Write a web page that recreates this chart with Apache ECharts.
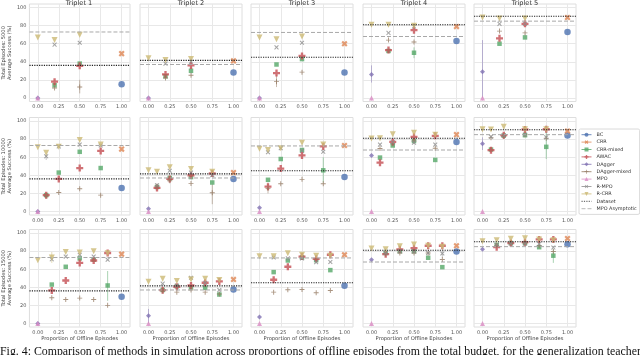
<!DOCTYPE html>
<html>
<head>
<meta charset="utf-8">
<script src="https://cdn.jsdelivr.net/npm/echarts@6/dist/echarts.min.js"></script>
<style>
  html, body { margin: 0; padding: 0; background: #fff; }
  #chart { width: 640px; height: 355px; }
</style>
</head>
<body>
<div id="chart"></div>
<script>
const _ = null;

// ====== Data ======
const triplets = ['Triplet 1', 'Triplet 2', 'Triplet 3', 'Triplet 4', 'Triplet 5'];
const budgets = ['5000', '10000', '15000'];
// x positions of the runs in each row (proportion of offline episodes)
const xsRow = [
  [0, 0.2, 0.5, 1],
  [0, 0.1, 0.25, 0.5, 0.75, 1],
  [0, 1 / 6, 1 / 3, 0.5, 2 / 3, 5 / 6, 1]
];
const xTicks = [0, 0.25, 0.5, 0.75, 1];
const yTicks = [0, 20, 40, 60, 80, 100];

const datasetLevel = [36, 41.5, 45, 81, 90.5];
const mpoAsymptotic = [73, 37, 72.5, 68, 85];

// methods only run at x = 1 or x = 0 : [row][col]
const bcFull = [[15, 28, 28, 63, 73], [26, 36, 38, 77, 84], [29.5, 37.6, 41.7, 79.6, 87.7]];
const crrFull = [[49, 41, 60, 79, 89], [69, 43, 73, 85, 89], [76.7, 48.7, 76, 86, 94]];
const daggerZero = [[0, 0, 0, 26, 29], [0, 3, 4, 62, 75], [0, 8.5, 7, 70.4, 82]];
const mpoZero = [[0, 0, 0, 0, 0], [0, 0, 0, 0, 0], [0, 0, 0, 0, 0]];

// methods over xsRow : [row][col][i]
const rCRR = [
  [[67, 64, 70, _], [44, 42, 43, _], [67, 65, 68, _], [81, 81, 80, _], [89, 88, 88, _]],
  [[71, 65, 71.5, 79, 74, _], [45.5, 44, 49, 47, 44, _], [69.5, 68, 70, 76, 74, _], [80.7, 81, 85.5, 87, 85, _], [91, 90.7, 93.7, 91, 91, _]],
  [[70, 73, 79, 78.5, 80, 77.8, _], [46, 49.4, 47, 48.7, 49.4, 48, _], [74.4, 74.4, 77.8, 76, 75, 75, _], [83, 82, 85.5, 87.4, 86, 85, _], [91, 92, 93.7, 94.4, 93, 92, _]]
];
const rMPO = [
  [[_, 59, 61, _], [_, 38, 40, _], [_, 56, 61, _], [_, 72, 79, _], [_, 82, 82, _]],
  [[_, 61, 72, 74, 73, _], [_, 29, 45, 43, 40, _], [_, 65.5, 70, 67, 66, _], [_, 74, 76.7, 76, 74, _], [_, 82.6, 84, 85, 82, _]],
  [[_, 71, 74, 76, 74, 70.5, _], [_, 44, 42, 50.5, 45, 37, _], [_, 73, 72, 72, 67.8, 68, _], [_, 78, 80, 79.6, 78, 77.4, _], [_, 87, 88.5, 88.5, 88, 84, _]]
];
const crrMixed = [
  [[_, 14, 38, _], [_, 24, 30, _], [_, 37, 43, _], [_, 52, 50, _], [_, 60, 67, _]],
  [[_, 18, 43, 66, 48, _], [_, 27, 37, 38, 32, _], [_, 35, 58, 68, 45.5, _], [_, 59.6, 73, 78, 57, _], [_, 68.5, 84, 84.4, 71.5, _]],
  [[_, 43, 62.7, 72, 70.5, 42, _], [_, 37, 41, 40, 39.5, 32, _], [_, 56.8, 69.7, 73, 70, 59, _], [_, 78, 80, 80, 72.7, 62.3, _], [_, 87, 89, 89, 84.4, 75, _]]
];
const awac = [
  [[_, 18, 35.5, _], [_, 26, 36, _], [_, 27.5, 46.5, _], [_, 53, 75, _], [_, 66, 82, _]],
  [[_, 18, 36, 48, 67, _], [_, 26, 36, 40, 42, _], [_, 27.4, 47.4, 62, 72, _], [_, 54, 77, 82.6, 83.7, _], [_, 67.8, 84.4, 90.7, 91, _]],
  [[_, 36.5, 47.5, 67, 69.7, 78, _], [_, 36.8, 40.6, 42, 45, 46.5, _], [_, 48.3, 62.7, 74, 71.5, 76, _], [_, 76.7, 82, 83.3, 86, 86, _], [_, 84.4, 89, 90, 93, 93, _]]
];
const daggerMixed = [
  [[_, 11, 12, _], [_, 22, 25, _], [_, 18, 28.5, _], [_, 64, 62, _], [_, 74, 72, _]],
  [[_, 17, 21, 25, 18, _], [_, 28, 34, 31, 20.7, _], [_, 25.5, 30.7, 35.5, 30.7, _], [_, 69.6, 75, 78, 70, _], [_, 81.5, 83, 85, 81, _]],
  [[_, 28.4, 26.5, 28, 26.5, 20, _], [_, 36, 34.6, 37, 34.6, 32.5, _], [_, 34.6, 37.3, 37.6, 34, 36.5, _], [_, 77, 78, 78, 78, 70.8, _], [_, 86, 89, 89, 86, 79.6, _]]
];

// visible error bars: [row, col, method, x, low, high]
const errorBars = [
  [0, 0, 'DAgger-mixed', 0.5, 5, 20],
  [0, 2, 'DAgger-mixed', 0.2, 12, 25],
  [0, 3, 'DAgger', 0, 17, 36],
  [0, 3, 'CRR-mixed', 0.5, 44, 56],
  [0, 4, 'DAgger', 0, 0, 64],
  [1, 0, 'R-MPO', 0.1, 57, 64],
  [1, 1, 'DAgger-mixed', 0.75, 8, 30],
  [1, 2, 'CRR-mixed', 0.75, 32, 60],
  [1, 2, 'DAgger-mixed', 0.1, 20, 32],
  [1, 4, 'CRR-mixed', 0.75, 58, 88],
  [1, 4, 'DAgger', 0, 68, 82],
  [2, 0, 'CRR-mixed', 5 / 6, 25, 58],
  [2, 0, 'R-CRR', 1 / 6, 67, 79],
  [2, 1, 'DAgger', 0, 0, 16],
  [2, 3, 'R-MPO', 5 / 6, 73, 82],
  [2, 4, 'CRR-mixed', 5 / 6, 67, 82]
];

// ====== Styles ======
const plusPath = 'path://M-1,-3H1V-1H3V1H1V3H-1V1H-3V-1H-1Z';
const thinPlus = 'path://M-0.55,-3H0.55V-0.55H3V0.55H0.55V3H-0.55V0.55H-3V-0.55H-0.55Z';

const methods = [
  { name: 'BC', color: '#4C72B0', symbol: 'circle', size: 6.5, pts: (r, c) => [[1, bcFull[r][c]]] },
  { name: 'CRR', color: '#DD8452', symbol: plusPath, rotate: 45, size: 6.5, pts: (r, c) => [[1, crrFull[r][c]]] },
  { name: 'CRR-mixed', color: '#55A868', symbol: 'rect', size: 4.5, vals: crrMixed },
  { name: 'AWAC', color: '#C44E52', symbol: plusPath, size: 7, vals: awac },
  { name: 'DAgger', color: '#8172B3', symbol: 'diamond', size: 5, pts: (r, c) => [[0, daggerZero[r][c]]] },
  { name: 'DAgger-mixed', color: '#937860', symbol: thinPlus, size: 5, vals: daggerMixed },
  { name: 'MPO', color: '#DA8BC3', symbol: 'triangle', size: 5, pts: (r, c) => [[0, mpoZero[r][c]]] },
  { name: 'R-MPO', color: '#8C8C8C', symbol: thinPlus, rotate: 45, size: 5.5, vals: rMPO },
  { name: 'R-CRR', color: '#CCB974', symbol: 'triangle', rotate: 180, size: 6, vals: rCRR }
];
const colorOf = {};
methods.forEach(m => { colorOf[m.name] = m.color; });

const colLeft = [28, 140, 251, 363, 474];
const colWidth = 102;
const rowTop = [4, 117.5, 229.5];
const rowHeight = 97.5;
const font = 'DejaVu Sans';

// ====== Build option ======
const grids = [], xAxes = [], yAxes = [], series = [];

for (let r = 0; r < 3; r++) {
  for (let c = 0; c < 5; c++) {
    const g = r * 5 + c;
    grids.push({
      left: colLeft[c], top: rowTop[r], width: colWidth, height: rowHeight,
      show: true, borderColor: '#dedede', borderWidth: 1, backgroundColor: 'transparent'
    });
    xAxes.push({
      gridIndex: g, type: 'value', min: -0.1, max: 1.1,
      axisLine: { show: false },
      axisTick: { show: false, customValues: xTicks },
      axisLabel: { customValues: xTicks, formatter: v => v.toFixed(2), fontSize: 5, color: '#555', margin: 3, fontFamily: font },
      splitLine: { lineStyle: { color: '#e8e8e8', width: 1 } },
      name: r === 2 ? 'Proportion of Offline Episodes' : '',
      nameLocation: 'middle', nameGap: 9.5,
      nameTextStyle: { fontSize: 5.2, color: '#444', fontFamily: font }
    });
    yAxes.push({
      gridIndex: g, type: 'value', min: -4, max: 104,
      axisLine: { show: false },
      axisTick: { show: false, customValues: yTicks },
      axisLabel: { show: c === 0, customValues: yTicks, fontSize: 5, color: '#555', margin: 3, fontFamily: font },
      splitLine: { lineStyle: { color: '#e8e8e8', width: 1 } },
      name: c === 0 ? 'Total Episodes: ' + budgets[r] + '\nAverage Success (%)' : '',
      nameLocation: 'middle', nameGap: 14, nameRotate: 90,
      nameTextStyle: { fontSize: 5.2, lineHeight: 6, color: '#444', fontFamily: font }
    });

    // error bars
    const bars = errorBars.filter(e => e[0] === r && e[1] === c);
    if (bars.length) {
      series.push({
        type: 'custom', xAxisIndex: g, yAxisIndex: g, silent: true, z: 1,
        data: bars.map(e => [e[3], e[4], e[5], e[2]]),
        encode: { x: 0, y: [1, 2] },
        renderItem: (params, api) => {
          const top = api.coord([api.value(0), api.value(2)]);
          const bot = api.coord([api.value(0), api.value(1)]);
          const m = bars[params.dataIndex][2];
          return {
            type: 'line',
            shape: { x1: top[0], y1: top[1], x2: bot[0], y2: bot[1] },
            style: { stroke: colorOf[m], lineWidth: 1, opacity: 0.5 }
          };
        }
      });
    }

    // markers
    methods.forEach((m, k) => {
      let data;
      if (m.vals) {
        data = xsRow[r].map((x, i) => [x, m.vals[r][c][i]]).filter(p => p[1] != null);
      } else {
        data = m.pts(r, c);
      }
      series.push({
        name: m.name, type: 'line', xAxisIndex: g, yAxisIndex: g, z: 2 + k * 0.01,
        color: m.color, data,
        symbol: m.symbol, symbolSize: m.size, symbolRotate: m.rotate || 0,
        showSymbol: true, lineStyle: { width: 0, opacity: 0 },
        itemStyle: { color: m.color, opacity: 0.8 },
        emphasis: { disabled: true }, silent: true
      });
    });

    // reference lines
    series.push({
      name: 'Dataset', type: 'line', xAxisIndex: g, yAxisIndex: g, z: 3,
      color: '#222', data: [[-0.1, datasetLevel[c]], [1.1, datasetLevel[c]]],
      symbol: 'none', lineStyle: { color: '#222', width: 1.1, type: [1.2, 1.2] }, silent: true
    });
    series.push({
      name: 'MPO Asymptotic', type: 'line', xAxisIndex: g, yAxisIndex: g, z: 3,
      color: '#a8a8a8', data: [[-0.1, mpoAsymptotic[c]], [1.1, mpoAsymptotic[c]]],
      symbol: 'none', lineStyle: { color: '#a8a8a8', width: 1, type: [4, 2] }, silent: true
    });
  }
}

const graphics = triplets.map((t, c) => ({
  type: 'text', x: colLeft[c] + colWidth / 2, y: 3.5,
  style: { text: t, align: 'center', verticalAlign: 'middle', font: '6.6px "DejaVu Sans"', fill: '#333' }
}));
graphics.push({
  type: 'text', x: 0, y: 346,
  style: {
    text: 'Fig. 4: Comparison of methods in simulation across proportions of offline episodes from the total budget, for the generalization teacher',
    align: 'left', verticalAlign: 'top', font: '11.85px "Liberation Serif"', fill: '#111'
  }
});

const chart = echarts.init(document.getElementById('chart'));
chart.setOption({
  animation: false,
  grid: grids, xAxis: xAxes, yAxis: yAxes, series,
  legend: {
    orient: 'vertical', left: 579, top: 129,
    data: methods.map(m => m.name).concat([
      { name: 'Dataset', itemStyle: { opacity: 0 } },
      { name: 'MPO Asymptotic', itemStyle: { opacity: 0 } }
    ]),
    itemWidth: 10, itemHeight: 5, itemGap: 0,
    padding: [2, 3, 2, 2],
    borderColor: '#d0d0d0', borderWidth: 0.8, borderRadius: 1.5, backgroundColor: '#fff',
    lineStyle: { width: 1, opacity: 0.8 },
    textStyle: { fontSize: 4.9, lineHeight: 7.4, color: '#333', fontFamily: font },
    selectedMode: false
  },
  graphic: graphics
});
</script>
</body>
</html>
